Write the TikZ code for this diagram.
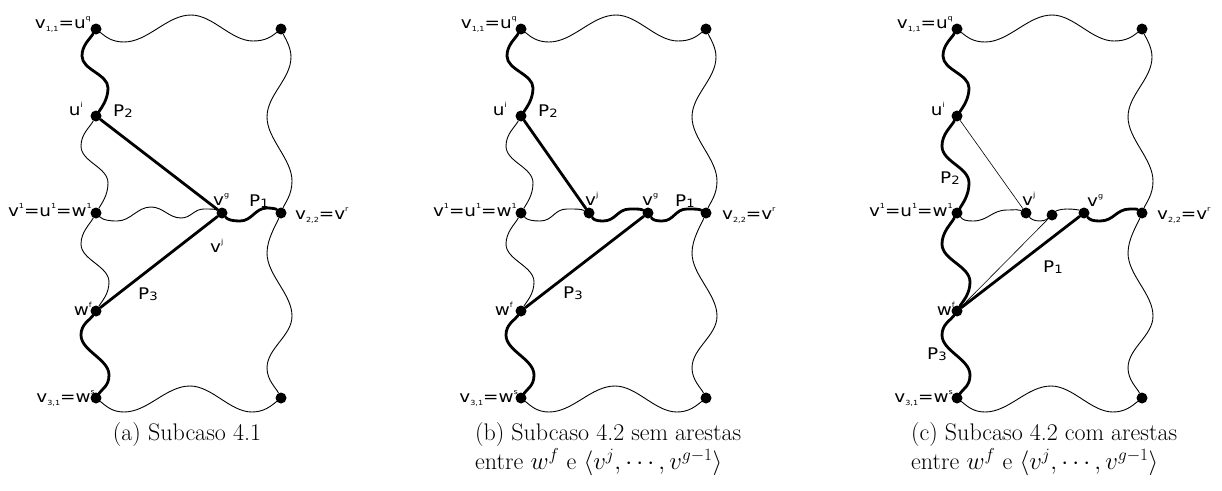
\documentclass[tikz,border=0pt]{standalone}
\usepackage{fontspec}
\newfontfamily\labfont[FakeStretch=1.15]{DejaVu Sans}
\newcommand\hi[1]{\raisebox{0.5em}{\fontsize{7}{7}\selectfont #1}}
\newcommand\lo[1]{\raisebox{-0.22em}{\fontsize{7}{7}\selectfont #1}}
\newcommand\pl[1]{\raisebox{-0.1em}{\fontsize{11.5}{11.5}\selectfont #1}}
\newcommand\Frame[2]{%
  \node[dot] (v11) at (0,0) {};
  \node[dot] (tr) at (185,0) {};
  \node[dot] (ui) at (0,87) {};
  \node[dot] (v1) at (0,184) {};
  \node[dot] (v22) at (185,184) {};
  \node[dot] (wf) at (0,282) {};
  \node[dot] (v31) at (0,369) {};
  \node[dot] (br) at (185,369) {};
  \draw[wthin] (v11) .. controls +(10,8) and +(-12,0) .. ++(28,13) .. controls +(24,0) and +(-24,0) .. ++(67,-27) .. controls +(22,0) and +(-22,0) .. ++(62,26) .. controls +(12,0) and +(-10,8) .. (tr);
  \draw[wthin] (v31) .. controls +(10,8) and +(-12,0) .. ++(28,14) .. controls +(24,0) and +(-24,0) .. ++(66,-26) .. controls +(22,0) and +(-22,0) .. ++(62,26) .. controls +(12,0) and +(-10,8) .. (br);
  \draw[wthick] (v11) .. controls +(-6,10) and +(0,-11) .. ++(-14,27) .. controls +(0,14) and +(0,-14) .. ++(26,32) .. controls +(0,11) and +(6,-9) .. (ui);
  \draw[#1] (ui) .. controls +(-6,11) and +(0,-12) .. ++(-15,30) .. controls +(0,16) and +(0,-16) .. ++(27,37) .. controls +(0,12) and +(6,-10) .. (v1);
  \draw[#2] (v1) .. controls +(-6,11) and +(0,-12) .. ++(-15,31) .. controls +(0,16) and +(0,-16) .. ++(28,38) .. controls +(0,12) and +(6,-10) .. (wf);
  \draw[wthick] (wf) .. controls +(-6,9) and +(0,-11) .. ++(-15,24) .. controls +(0,16) and +(0,-16) .. ++(28,40) .. controls +(0,11) and +(6,-9) .. (v31);
  \draw[wthin] (tr) .. controls +(4,9) and +(0,-10) .. ++(10,28) .. controls +(0,22) and +(0,-22) .. ++(-24,60) .. controls +(0,22) and +(0,-22) .. ++(25,64) .. controls +(0,14) and +(4,-10) .. (v22);
  \draw[wthin] (v22) .. controls +(-5,12) and +(0,-14) .. ++(-14,40) .. controls +(0,22) and +(0,-22) .. ++(25,63) .. controls +(0,20) and +(0,-20) .. ++(-25,52) .. controls +(0,12) and +(-5,-10) .. (br);
}
\begin{document}
\begin{tikzpicture}[x=1pt,y=-1pt,
  dot/.style={circle,fill=black,inner sep=0pt,minimum size=11pt},
  wthin/.style={line width=0.9pt},
  wthick/.style={line width=2.8pt},
  sthin/.style={line width=0.6pt},
  lab/.style={font=\labfont\fontsize{16}{17}\selectfont,inner sep=0pt},
  captxt/.style={font=\fontsize{24}{29}\selectfont,inner sep=0pt},
  line join=round,line cap=round]
\useasboundingbox (0,0) rectangle (1222,490);

% ---------- panel (a)
\begin{scope}[shift={(96,29)},name prefix=a-]
  \Frame{wthin}{wthin}
  \node[dot] (vg) at (126,184) {};
  \draw[wthin] (v1) .. controls +(7,7) and +(-8,0) .. ++(21,8) .. controls +(14,0) and +(-14,0) .. ++(34,-14) .. controls +(12,0) and +(-12,0) .. ++(30,11) .. controls +(10,0) and +(-10,0) .. ++(23,-9) .. controls +(8,0) and +(-7,-4) .. (vg);
  \draw[wthick] (vg) .. controls +(6,7) and +(-7,0) .. ++(18,8) .. controls +(12,0) and +(-12,0) .. ++(27,-13) .. controls +(6,0) and +(-5,-4) .. (v22);
  \draw[wthick] (ui) -- (vg);
  \draw[wthick] (wf) -- (vg);
\end{scope}
\node[lab,anchor=base east] (la1) at (91,28) {v\lo{1,1}=u\hi{q}};
\node[lab,anchor=base east] (la2) at (83,115) {u\hi{i}};
\node[lab,anchor=base west] (la3) at (113,116) {P\pl{2}};
\node[lab,anchor=base east] (la4) at (92,216) {v\hi{1}=u\hi{1}=w\hi{1}};
\node[lab,anchor=base west] (la5) at (213,205) {v\hi{g}};
\node[lab,anchor=base west] (la6) at (249,206) {P\pl{1}};
\node[lab,anchor=base west] (la7) at (295,219) {v\lo{2,2}=v\hi{r}};
\node[lab,anchor=base west] (la8) at (210,252) {v\hi{j}};
\node[lab,anchor=base west] (la9) at (138,299) {P\pl{3}};
\node[lab,anchor=base east] (la10) at (92,315) {w\hi{f}};
\node[lab,anchor=base east] (la11) at (95,402) {v\lo{3,1}=w\hi{s}};
\node[captxt,anchor=base] (capa) at (187,440) {(a) Subcaso 4.1};

% ---------- panel (b)
\begin{scope}[shift={(521,29)},name prefix=b-]
  \Frame{wthin}{wthin}
  \node[dot] (vj) at (68,184) {};
  \node[dot] (vg) at (127,184) {};
  \draw[wthin] (v1) .. controls +(6,7) and +(-7,0) .. ++(19,8) .. controls +(13,0) and +(-13,0) .. ++(27,-12) .. controls +(10,0) and +(-8,-4) .. (vj);
  \draw[wthick] (vj) .. controls +(5,7) and +(-6,0) .. ++(14,8) .. controls +(13,0) and +(-13,0) .. ++(27,-12) .. controls +(8,0) and +(-7,-4) .. (vg);
  \draw[wthick] (vg) .. controls +(5,7) and +(-6,0) .. ++(14,8) .. controls +(12,0) and +(-12,0) .. ++(25,-12) .. controls +(8,0) and +(-7,-4) .. (v22);
  \draw[wthick] (ui) -- (vj);
  \draw[wthick] (wf) -- (vg);
\end{scope}
\node[lab,anchor=base east] (lb1) at (517,28) {v\lo{1,1}=u\hi{q}};
\node[lab,anchor=base east] (lb2) at (507,115) {u\hi{i}};
\node[lab,anchor=base west] (lb3) at (538,116) {P\pl{2}};
\node[lab,anchor=base east] (lb4) at (517,216) {v\hi{1}=u\hi{1}=w\hi{1}};
\node[lab,anchor=base west] (lb5) at (585,205) {v\hi{j}};
\node[lab,anchor=base west] (lb6) at (642,205) {v\hi{g}};
\node[lab,anchor=base west] (lb7) at (675,206) {P\pl{1}};
\node[lab,anchor=base west] (lb8) at (722,219) {v\lo{2,2}=v\hi{r}};
\node[lab,anchor=base west] (lb9) at (563,298) {P\pl{3}};
\node[lab,anchor=base east] (lb10) at (513,315) {w\hi{f}};
\node[lab,anchor=base east] (lb11) at (518,402) {v\lo{3,1}=w\hi{s}};
\node[captxt,anchor=north west,text width=266pt,align=justify] (capb) at (475,422)
  {(b) Subcaso 4.2 sem arestas\linebreak entre $w^f$ e $\langle v^j, \cdots, v^{g-1}\rangle$};

% ---------- panel (c)
\begin{scope}[shift={(957,29)},name prefix=c-]
  \Frame{wthick}{wthick}
  \node[dot] (vj) at (69,184) {};
  \node[dot] (vx) at (95,186) {};
  \node[dot] (vg) at (127,184) {};
  \draw[wthin] (v1) .. controls +(6,7) and +(-7,0) .. ++(16,8) .. controls +(15,0) and +(-15,0) .. ++(34,-11) .. controls +(9,0) and +(-8,-4) .. (vj);
  \draw[wthin] (vj) .. controls +(5,6) and +(-6,0) .. ++(14,8) .. controls +(6,0) and +(-4,3) .. (vx);
  \draw[wthin] (vx) .. controls +(4,-4) and +(-7,0) .. ++(15,-6) .. controls +(7,0) and +(-5,-3) .. (vg);
  \draw[wthick] (vg) .. controls +(6,7) and +(-7,0) .. ++(16,8) .. controls +(14,0) and +(-14,0) .. ++(30,-12) .. controls +(6,0) and +(-5,-4) .. (v22);
  \draw[sthin] (ui) -- (vj);
  \draw[sthin] (wf) -- (vx);
  \draw[wthick] (wf) -- (vg);
\end{scope}
\node[lab,anchor=base east] (lc1) at (953,28) {v\lo{1,1}=u\hi{q}};
\node[lab,anchor=base east] (lc2) at (945,115) {u\hi{i}};
\node[lab,anchor=base west] (lc3) at (940,183) {P\pl{2}};
\node[lab,anchor=base east] (lc4) at (953,216) {v\hi{1}=u\hi{1}=w\hi{1}};
\node[lab,anchor=base west] (lc5) at (1022,205) {v\hi{j}};
\node[lab,anchor=base west] (lc6) at (1087,206) {v\hi{g}};
\node[lab,anchor=base west] (lc7) at (1157,219) {v\lo{2,2}=v\hi{r}};
\node[lab,anchor=base west] (lc8) at (1043,272) {P\pl{1}};
\node[lab,anchor=base east] (lc9) at (955,315) {w\hi{f}};
\node[lab,anchor=base west] (lc10) at (927,359) {P\pl{3}};
\node[lab,anchor=base east] (lc11) at (953,402) {v\lo{3,1}=w\hi{s}};
\node[captxt,anchor=north west,text width=266pt,align=justify] (capc) at (911,422)
  {(c) Subcaso 4.2 com arestas\linebreak entre $w^f$ e $\langle v^j, \cdots, v^{g-1}\rangle$};
\end{tikzpicture}
\end{document}
